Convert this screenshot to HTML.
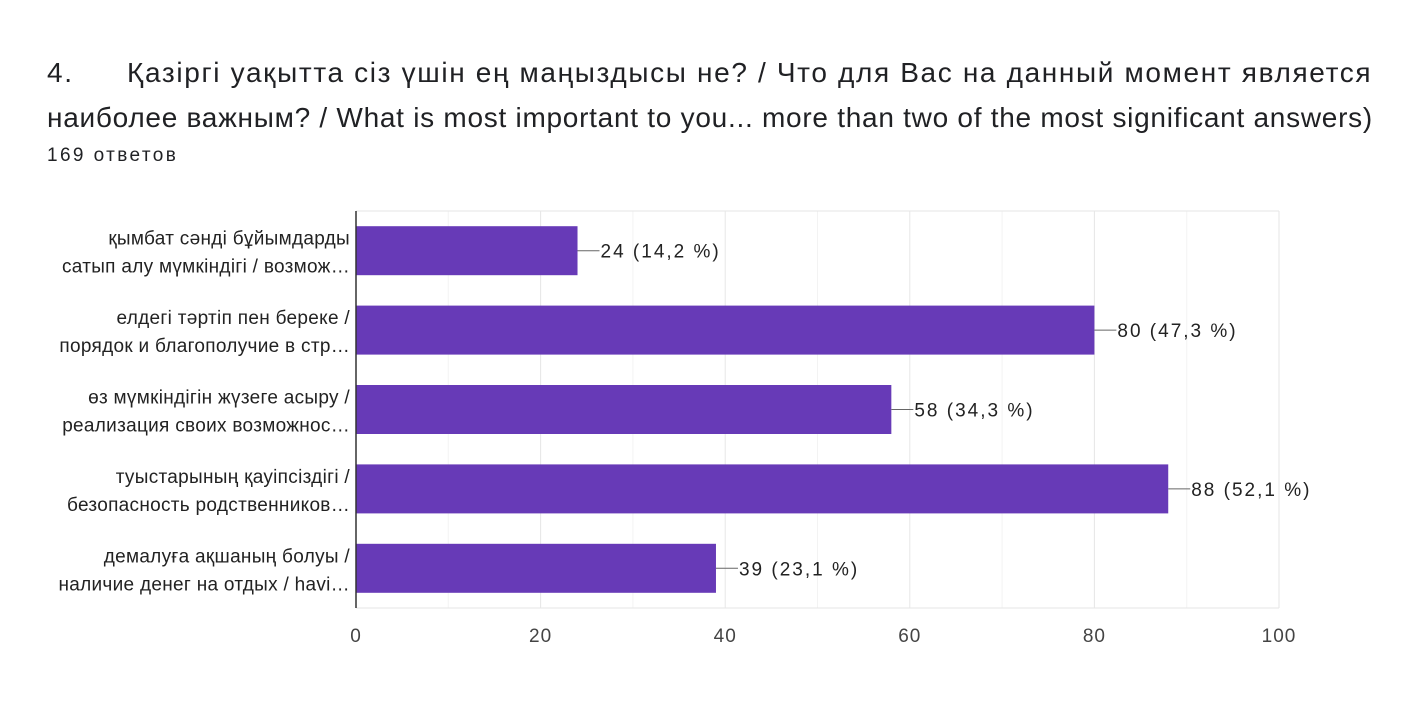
<!DOCTYPE html>
<html><head><meta charset="utf-8"><style>
body{margin:0;background:#fff;width:1421px;height:726px;overflow:hidden;font-family:"Liberation Sans","DejaVu Sans",sans-serif;}
.t{position:absolute;left:47px;font-size:28px;color:#202124;white-space:nowrap;line-height:45px;}
</style></head><body>
<div class="t" style="top:50px;">
<div style="letter-spacing:1.65px"><span style="display:inline-block;width:80px">4.</span>Қазіргі уақытта сіз үшін ең маңыздысы не? / Что для Вас на данный момент является</div>
<div style="letter-spacing:0.73px">наиболее важным? / What is most important to you... more than two of the most significant answers)</div></div>
<div style="position:absolute;left:47px;top:145px;font-size:19px;letter-spacing:2.4px;color:#202124;">169 ответов</div>
<svg id="c" width="1421" height="726" style="position:absolute;left:0;top:0"></svg>
<script>
const categories=[["қымбат сәнді бұйымдарды","сатып алу мүмкіндігі / возмож…"],["елдегі тәртіп пен береке /","порядок и благополучие в стр…"],["өз мүмкіндігін жүзеге асыру /","реализация своих возможнос…"],["туыстарының қауіпсіздігі /","безопасность родственников…"],["демалуға ақшаның болуы /","наличие денег на отдых / havi…"]];
const values=[24,80,58,88,39];
const valueLabels=["24 (14,2 %)","80 (47,3 %)","58 (34,3 %)","88 (52,1 %)","39 (23,1 %)"];
const ticks=[0,20,40,60,80,100];
const svg=document.getElementById('c');const NS='http://www.w3.org/2000/svg';
const X0=356,X1=1279,T=211,B=608;
const x=v=>X0+(X1-X0)*v/100;
const band=(B-T)/values.length;
function mk(t,a,p){const e=document.createElementNS(NS,t);for(const k in a)e.setAttribute(k,a[k]);(p||svg).appendChild(e);return e;}
for(let v=0;v<=100;v+=10){const g=mk('line',{x1:x(v),x2:x(v),y1:T,y2:B,stroke:v%20?'#f3f3f3':'#e6e6e6','stroke-width':1});

}
mk('line',{x1:X0,x2:X1,y1:T,y2:T,stroke:'#e6e6e6'});
mk('line',{x1:X0,x2:X1,y1:B,y2:B,stroke:'#e6e6e6'});
ticks.forEach(v=>{const t=mk('text',{x:x(v),y:642,'text-anchor':'middle','font-size':19,fill:'#444','letter-spacing':1});t.textContent=v;

});
values.forEach((v,i)=>{const yc=T+band*(i+0.5);const h=49;
const r=mk('rect',{x:X0,y:yc-h/2,width:x(v)-X0,height:h,fill:'#673ab7'});


mk('line',{x1:x(v),x2:x(v)+22,y1:yc,y2:yc,stroke:'#666'});
const vl=mk('text',{x:x(v)+23,y:yc+7,'font-size':19,fill:'#222','letter-spacing':2});vl.textContent=valueLabels[i];


categories[i].forEach((s,j)=>{const l=mk('text',{x:350,y:yc-6+j*28,'text-anchor':'end','font-size':19,fill:'#222','letter-spacing':0.3});l.textContent=s;

});});
mk('line',{x1:X0,x2:X0,y1:T,y2:B,stroke:'#333','stroke-width':1.5});
</script>
</body></html>
